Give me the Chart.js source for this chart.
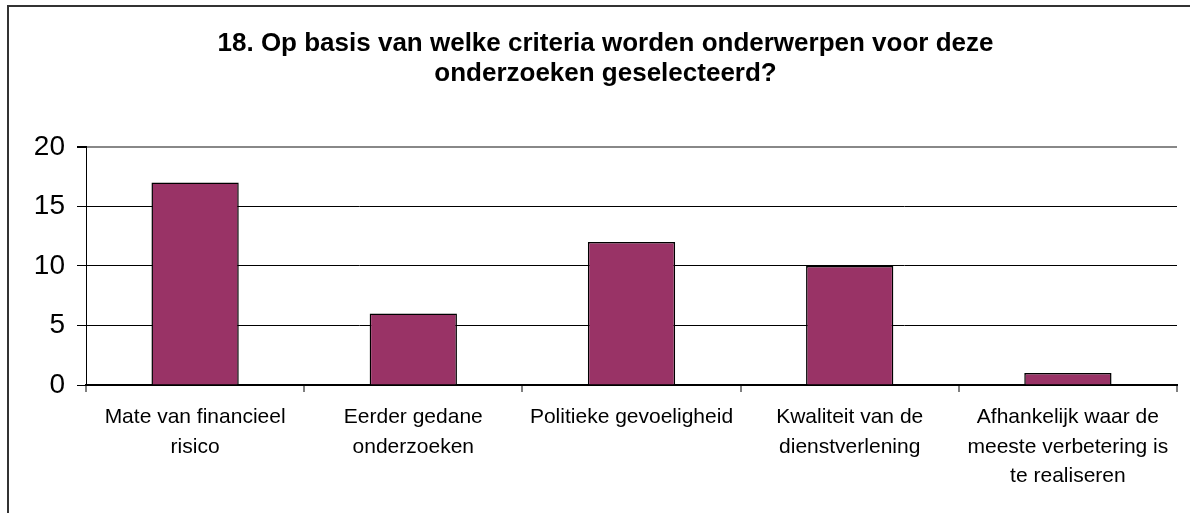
<!DOCTYPE html>
<html>
<head>
<meta charset="utf-8">
<script src="https://cdn.jsdelivr.net/npm/chart.js@4"></script>
<style>
  html, body { margin: 0; padding: 0; background: #fff; }
  #wrap { width: 1190px; height: 513px; }
</style>
</head>
<body>
<div id="wrap"><canvas id="myChart" width="1190" height="513"></canvas></div>
<script>
var categories = [
    ['Mate van financieel', 'risico'],
    ['Eerder gedane', 'onderzoeken'],
    ['Politieke gevoeligheid'],
    ['Kwaliteit van de', 'dienstverlening'],
    ['Afhankelijk waar de', 'meeste verbetering is', 'te realiseren'],
];
var counts = [17, 6, 12, 10, 1];
var yTicks = [0, 5, 10, 15, 20];
var titleLines = [
    '18. Op basis van welke criteria worden onderwerpen voor deze',
    'onderzoeken geselecteerd?',
];

// outer frame of the picture
const framePlugin = {
    id: 'frame',
    beforeDraw(chart) {
        let c = chart.ctx;
        c.save();
        c.fillStyle = '#fff';
        c.fillRect(0, 0, chart.width, chart.height);
        c.strokeStyle = '#333';
        c.lineWidth = 2;
        c.strokeRect(8, 6, chart.width + 40, chart.height + 40);
        c.restore();
    },
};

var ctx = document.getElementById('myChart');
var chart = new Chart(ctx, {
    type: 'bar',
    data: {
        labels: categories,
        datasets: [
            {
                data: counts,
                backgroundColor: '#993366',
                borderColor: '#000',
                borderWidth: 1.5,
                barPercentage: 0.4,
                categoryPercentage: 1.0,
            },
        ],
    },
    options: {
        responsive: false,
        animation: false,
        layout: { padding: { left: 34, right: 13, top: 0, bottom: 0 } },
        scales: {
            y: {
                min: 0,
                max: 20,
                afterFit: (s) => { s.width = 52; },
                afterBuildTicks: (s) => { s.ticks = yTicks.map((v) => ({ value: v })); },
                ticks: {
                    color: '#000',
                    padding: 12,
                    font: { family: 'Liberation Sans', size: 28 },
                },
                grid: {
                    color: (c) => (c.tick && c.tick.value === 20 ? '#888' : '#000'),
                    lineWidth: (c) => (c.tick && c.tick.value === 20 ? 2 : 1),
                    tickColor: '#000',
                    tickLength: 9,
                },
                border: { color: '#000', width: 1 },
            },
            x: {
                afterFit: (s) => { s.height = 128; },
                ticks: {
                    color: '#000',
                    padding: 11,
                    font: { family: 'Liberation Sans', size: 21, lineHeight: 1.4 },
                    maxRotation: 0,
                    autoSkip: false,
                },
                grid: {
                    offset: true,
                    color: (c) => (c.index === categories.length ? '#888' : 'rgba(0,0,0,0)'),
                    lineWidth: 2,
                    tickColor: '#000',
                    tickLength: 7,
                    tickWidth: 1,
                },
                border: { color: '#000', width: 2 },
            },
        },
        plugins: {
            legend: { display: false },
            tooltip: { enabled: false },
            title: {
                display: true,
                text: titleLines,
                color: '#000',
                font: { family: 'Liberation Sans', size: 26, weight: 'bold', lineHeight: 1.15 },
                padding: { top: 29, bottom: 58 },
            },
        },
    },
    plugins: [framePlugin],
});
</script>
</body>
</html>
